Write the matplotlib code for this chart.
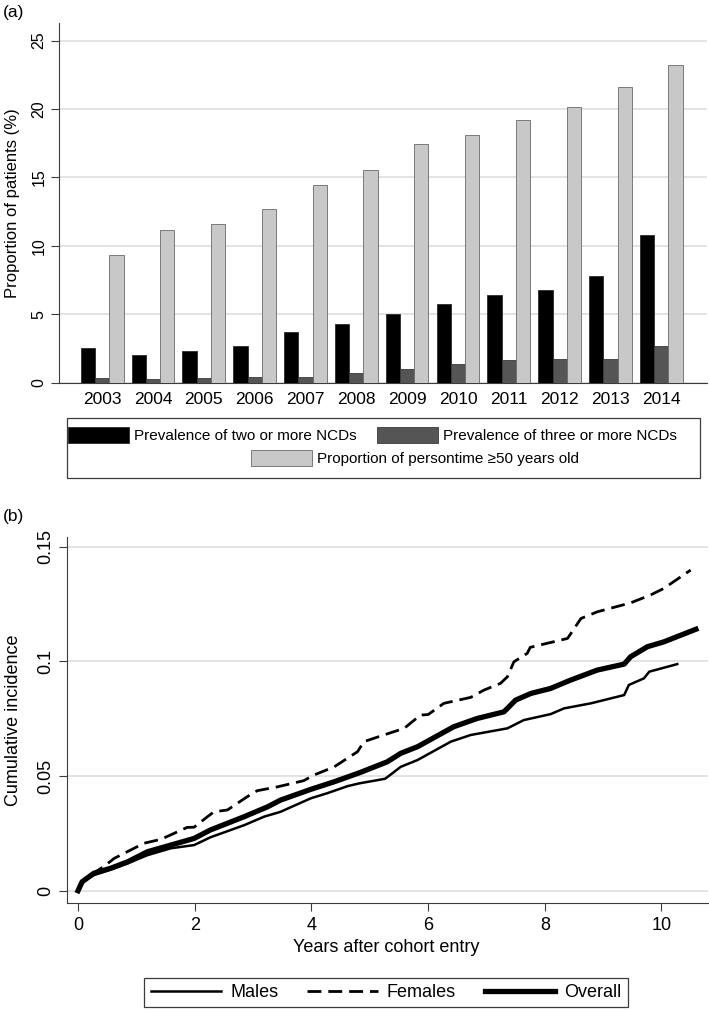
import numpy as np
import matplotlib
matplotlib.use("Agg")
import matplotlib.pyplot as plt
from matplotlib.patches import Patch, Rectangle

plt.rcParams['font.family'] = ['Liberation Sans', 'DejaVu Sans']

# (a) bar data
years = [2003, 2004, 2005, 2006, 2007, 2008, 2009, 2010, 2011, 2012, 2013, 2014]
two_ncd = [2.5, 2.02, 2.34, 2.66, 3.68, 4.27, 5.05, 5.73, 6.39, 6.8, 7.76, 10.8]
three_ncd = [0.32, 0.3, 0.32, 0.39, 0.44, 0.73, 1.0, 1.39, 1.66, 1.71, 1.76, 2.68]
age50 = [9.32, 11.12, 11.59, 12.71, 14.41, 15.56, 17.46, 18.12, 19.22, 20.17, 21.59, 23.2]

# (b) cumulative incidence curves
t_males = [0, 0.1, 0.27, 0.56, 0.85, 1.19, 1.59, 1.99, 2.27, 2.85, 3.19, 3.47, 3.99, 4.27,
           4.62, 4.82, 5.26, 5.30, 5.53, 5.82, 6.39, 6.73, 7.36, 7.64, 8.10, 8.33, 8.79,
           9.36, 9.44, 9.70, 9.79, 10.27]
v_males = [0, 0.0042, 0.0068, 0.0092, 0.0119, 0.0155, 0.0185, 0.0199, 0.0233, 0.0286, 0.0323,
           0.0344, 0.0403, 0.0425, 0.0456, 0.0468, 0.0488, 0.0495, 0.054, 0.057, 0.065, 0.0679,
           0.0708, 0.0744, 0.077, 0.0795, 0.0817, 0.0853, 0.0897, 0.0926, 0.0955, 0.0988]

t_females = [0, 0.07, 0.27, 0.475, 0.62, 1.13, 1.42, 1.645, 1.87, 1.99, 2.22, 2.33, 2.56, 2.90,
             3.07, 3.42, 3.87, 4.04, 4.39, 4.79, 4.90, 5.24, 5.59, 5.87, 6.0, 6.27, 6.73,
             6.96, 7.24, 7.36, 7.47, 7.70, 7.75, 8.39, 8.62, 8.90, 9.47, 9.81, 10.04, 10.50]
v_females = [0, 0.0039, 0.0076, 0.0112, 0.0141, 0.0207, 0.0224, 0.025, 0.0276, 0.0277, 0.0323,
             0.0344, 0.0352, 0.041, 0.0436, 0.0453, 0.048, 0.0504, 0.054, 0.0606, 0.065, 0.0679,
             0.0708, 0.0766, 0.0768, 0.0817, 0.0843, 0.0875, 0.0904, 0.0933, 0.0998, 0.1035,
             0.1061, 0.110, 0.1187, 0.1216, 0.1255, 0.1289, 0.1318, 0.1398]

t_overall = [0, 0.07, 0.27, 0.56, 0.85, 1.19, 1.59, 1.99, 2.27, 2.85, 3.25, 3.47, 3.99, 4.39,
             4.82, 5.30, 5.53, 5.82, 6.44, 6.84, 7.30, 7.50, 7.76, 8.10, 8.44, 8.90, 9.36,
             9.47, 9.76, 10.04, 10.59]
v_overall = [0, 0.0039, 0.0076, 0.0098, 0.0126, 0.017, 0.0199, 0.0228, 0.0265, 0.0323, 0.0366,
             0.0395, 0.0442, 0.0475, 0.0514, 0.0562, 0.0599, 0.0628, 0.0715, 0.0751, 0.078,
             0.0831, 0.086, 0.0882, 0.0918, 0.0962, 0.0988, 0.102, 0.1064, 0.1085, 0.114]

axis_col = '#3c3c3c'
grid_col = '#e3e3e3'

fig = plt.figure(figsize=(7.09, 10.11), dpi=100)

# ---- panel (a)
ax1 = fig.add_axes([0.0832, 0.6215, 0.914, 0.356])
x = np.arange(len(years))
w = 0.28
ax1.bar(x - w, two_ncd, w, color='black', edgecolor='#2a2a2a', linewidth=0.6, zorder=3)
ax1.bar(x, three_ncd, w, color='#555555', edgecolor='#3a3a3a', linewidth=0.6, zorder=3)
ax1.bar(x + w, age50, w, color='#c8c8c8', edgecolor='#6a6a6a', linewidth=0.6, zorder=3)
ax1.set_xlim(-0.85, len(years) - 1 + 0.9)
ax1.set_ylim(0, 26.3)
ax1.set_yticks([0, 5, 10, 15, 20, 25])
ax1.set_xticks(x)
ax1.set_xticklabels([str(y) for y in years])
ax1.grid(axis='y', color=grid_col, linewidth=1.4, zorder=0)
for s in ['top', 'right']:
    ax1.spines[s].set_visible(False)
ax1.spines['left'].set_color(axis_col)
ax1.spines['bottom'].set_color(axis_col)
ax1.tick_params(axis='y', length=6, color=axis_col, labelsize=11.5, pad=3, labelrotation=90)
for lab in ax1.get_yticklabels():
    lab.set_va('center')
ax1.tick_params(axis='x', length=0, labelsize=12.5, pad=7)
ax1.set_ylabel('Proportion of patients (%)', fontsize=12, va='center')
ax1.yaxis.set_label_coords(-0.072, 0.5)
fig.text(0.004, 0.988, '(a)', fontsize=12.5, va='center', ha='left')

# legend (a): framed box with two rows
fig.add_artist(Rectangle((67 / 709, 1 - 478 / 1011), 633 / 709, 60 / 1011,
                         transform=fig.transFigure, fill=False, edgecolor=axis_col, linewidth=0.9))
h1 = [Patch(facecolor='black', edgecolor='#2a2a2a', linewidth=0.6),
      Patch(facecolor='#555555', edgecolor='#3a3a3a', linewidth=0.6)]
h2 = [Patch(facecolor='#c8c8c8', edgecolor='#6a6a6a', linewidth=0.6)]
leg1 = fig.legend(h1, ['Prevalence of two or more NCDs', 'Prevalence of three or more NCDs'],
                  loc='center', bbox_to_anchor=(0.525, 0.5697), ncol=2, frameon=False,
                  fontsize=11, handlelength=4, handleheight=1.2, handletextpad=0.35,
                  columnspacing=1.3, borderpad=0)
leg2 = fig.legend(h2, ['Proportion of persontime \u226550 years old'],
                  loc='center', bbox_to_anchor=(0.585, 0.547), frameon=False,
                  fontsize=11, handlelength=4, handleheight=1.2, handletextpad=0.35, borderpad=0)

# ---- panel (b)
ax2 = fig.add_axes([0.094, 0.1071, 0.904, 0.3617])
ax2.plot(t_males, v_males, color='black', linewidth=1.8, label='Males')
ax2.plot(t_females, v_females, color='black', linewidth=2.0, linestyle=(0, (5, 2.5)), label='Females')
ax2.plot(t_overall, v_overall, color='black', linewidth=3.8, label='Overall')
ax2.set_xlim(-0.195, 10.79)
ax2.set_ylim(-0.00523, 0.1542)
ax2.set_xticks([0, 2, 4, 6, 8, 10])
ax2.set_yticks([0, 0.05, 0.1, 0.15])
ax2.set_yticklabels(['0', '0.05', '0.1', '0.15'])
ax2.grid(axis='y', color=grid_col, linewidth=1.4, zorder=0)
for s in ['top', 'right']:
    ax2.spines[s].set_visible(False)
ax2.spines['left'].set_color(axis_col)
ax2.spines['bottom'].set_color(axis_col)
ax2.tick_params(axis='both', length=6, color=axis_col, labelsize=13)
ax2.tick_params(axis='y', labelrotation=90, pad=3)
for lab in ax2.get_yticklabels():
    lab.set_va('center')
ax2.tick_params(axis='x', pad=4)
ax2.set_xlabel('Years after cohort entry', fontsize=13)
ax2.xaxis.set_label_coords((386 - 66.6) / 641, -(948 - 902.7) / 366)
ax2.xaxis.label.set_va('center')
ax2.set_ylabel('Cumulative incidence', fontsize=13, va='center')
ax2.yaxis.set_label_coords(-(66.6 - 13) / 641, 0.5)
fig.text(0.004, 1 - 516.7 / 1011, '(b)', fontsize=12.5, va='center', ha='left')

leg3 = fig.legend(loc='center', bbox_to_anchor=(0.5444, 0.0183), ncol=3, fontsize=13,
                  handlelength=3.9, handletextpad=0.5, columnspacing=1.6,
                  fancybox=False, edgecolor=axis_col, framealpha=1, borderpad=0.35)
leg3.get_frame().set_linewidth(0.9)

fig.savefig('out.png', dpi=100)
